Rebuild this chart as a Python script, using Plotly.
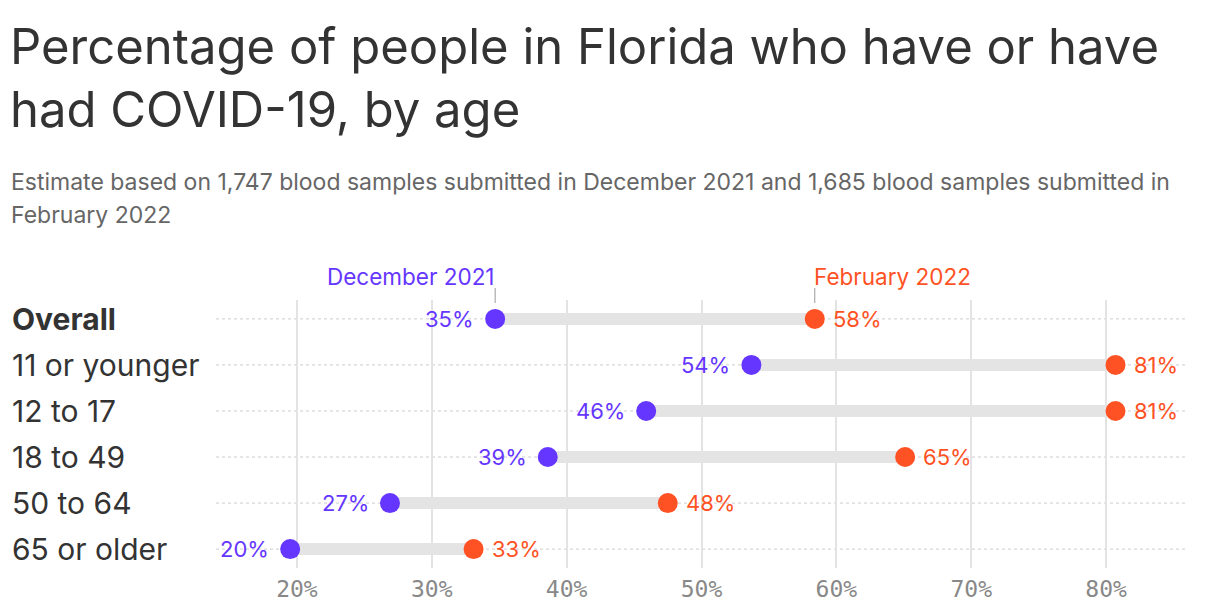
import plotly.graph_objects as go

categories = ["Overall", "11 or younger", "12 to 17", "18 to 49", "50 to 64", "65 or older"]
dec_2021 = [34.7, 53.7, 45.9, 38.6, 26.9, 19.5]
feb_2022 = [58.4, 80.7, 80.7, 65.1, 47.5, 33.1]
dec_labels = ["35%", "54%", "46%", "39%", "27%", "20%"]
feb_labels = ["58%", "81%", "81%", "65%", "48%", "33%"]
x_ticks = [20, 30, 40, 50, 60, 70, 80]
x_tick_labels = ["20%", "30%", "40%", "50%", "60%", "70%", "80%"]

PURPLE = "#6536ff"
ORANGE = "#ff5224"
DARK = "#333333"
FONT = "Inter"

W, H = 1220, 614
ML, MR, MT, MB = 216, 33, 300, 46
PW = W - ML - MR
PH = H - MT - MB

def px(xpix):
    return (xpix - ML) / PW

def py(ypix):
    return (H - MB - ypix) / PH

ypos = list(range(len(categories)))

fig = go.Figure()

# connector bars
for i, (a, b) in enumerate(zip(dec_2021, feb_2022)):
    fig.add_trace(go.Scatter(x=[a, b], y=[ypos[i], ypos[i]], mode="lines",
                             line=dict(color="#e4e4e4", width=12),
                             hoverinfo="skip", showlegend=False))

fig.add_trace(go.Scatter(x=dec_2021, y=ypos, mode="markers",
                         marker=dict(color=PURPLE, size=20),
                         showlegend=False, name="December 2021"))
fig.add_trace(go.Scatter(x=feb_2022, y=ypos, mode="markers",
                         marker=dict(color=ORANGE, size=20),
                         showlegend=False, name="February 2022"))

ann = []
for i in ypos:
    ann.append(dict(x=dec_2021[i], y=ypos[i], xref="x", yref="y", text=dec_labels[i],
                    showarrow=False, xanchor="right", yanchor="middle", xshift=-19,
                    font=dict(family=FONT, size=22, color=PURPLE)))
    ann.append(dict(x=feb_2022[i], y=ypos[i], xref="x", yref="y", text=feb_labels[i],
                    showarrow=False, xanchor="left", yanchor="middle", xshift=16,
                    font=dict(family=FONT, size=22, color=ORANGE)))
    label = f"<b>{categories[i]}</b>" if i == 0 else categories[i]
    ann.append(dict(x=px(10), y=ypos[i], xref="paper", yref="y", text=label,
                    showarrow=False, xanchor="left", yanchor="middle",
                    font=dict(family=FONT, size=30, color=DARK)))

# series headers
ann.append(dict(x=dec_2021[0], y=py(276), xref="x", yref="paper", text="December 2021",
                showarrow=False, xanchor="right", yanchor="middle", xshift=2,
                font=dict(family=FONT, size=22.5, color=PURPLE)))
ann.append(dict(x=feb_2022[0], y=py(276), xref="x", yref="paper", text="February 2022",
                showarrow=False, xanchor="left", yanchor="middle", xshift=-3,
                font=dict(family=FONT, size=22.5, color=ORANGE)))

# title and subtitle
ann.append(dict(x=px(8), y=py(46), xref="paper", yref="paper",
                text="Percentage of people in Florida who have or have",
                showarrow=False, xanchor="left", yanchor="middle",
                font=dict(family=FONT, size=49, color=DARK)))
ann.append(dict(x=px(8), y=py(109), xref="paper", yref="paper",
                text="had COVID-19, by age",
                showarrow=False, xanchor="left", yanchor="middle",
                font=dict(family=FONT, size=49, color=DARK)))
ann.append(dict(x=px(9), y=py(182), xref="paper", yref="paper",
                text="Estimate based on 1,747 blood samples submitted in December 2021 and 1,685 blood samples submitted in",
                showarrow=False, xanchor="left", yanchor="middle",
                font=dict(family=FONT, size=23, color="#666666")))
ann.append(dict(x=px(9), y=py(215), xref="paper", yref="paper",
                text="February 2022",
                showarrow=False, xanchor="left", yanchor="middle",
                font=dict(family=FONT, size=23, color="#666666")))

shapes = []
for x in [dec_2021[0], feb_2022[0]]:
    shapes.append(dict(type="line", xref="x", yref="paper", x0=x, x1=x,
                       y0=py(288), y1=py(303), line=dict(color="#999999", width=1)))
for i in ypos:
    shapes.append(dict(type="line", xref="paper", yref="y", x0=0, x1=1,
                       y0=ypos[i], y1=ypos[i], layer="below",
                       line=dict(color="#cccccc", width=1, dash="dot")))

fig.update_layout(
    width=W, height=H,
    margin=dict(l=ML, r=MR, t=MT, b=MB),
    paper_bgcolor="white", plot_bgcolor="white",
    annotations=ann, shapes=shapes,
    xaxis=dict(range=[14, 86], tickvals=x_ticks, ticktext=x_tick_labels,
               showgrid=True, gridcolor="#e3e3e3", gridwidth=2, zeroline=False,
               showline=False, ticks="", ticklabelstandoff=5,
               tickfont=dict(family="DejaVu Sans Mono", size=23, color="#888888")),
    yaxis=dict(range=[len(categories) - 1 + 0.41, -0.41], showticklabels=False,
               showgrid=False, zeroline=False, showline=False, ticks=""),
    hovermode=False,
)

fig.write_html("out.html", config={"displayModeBar": False},
               post_script="document.body.style.margin='0';document.body.style.overflow='hidden';")
